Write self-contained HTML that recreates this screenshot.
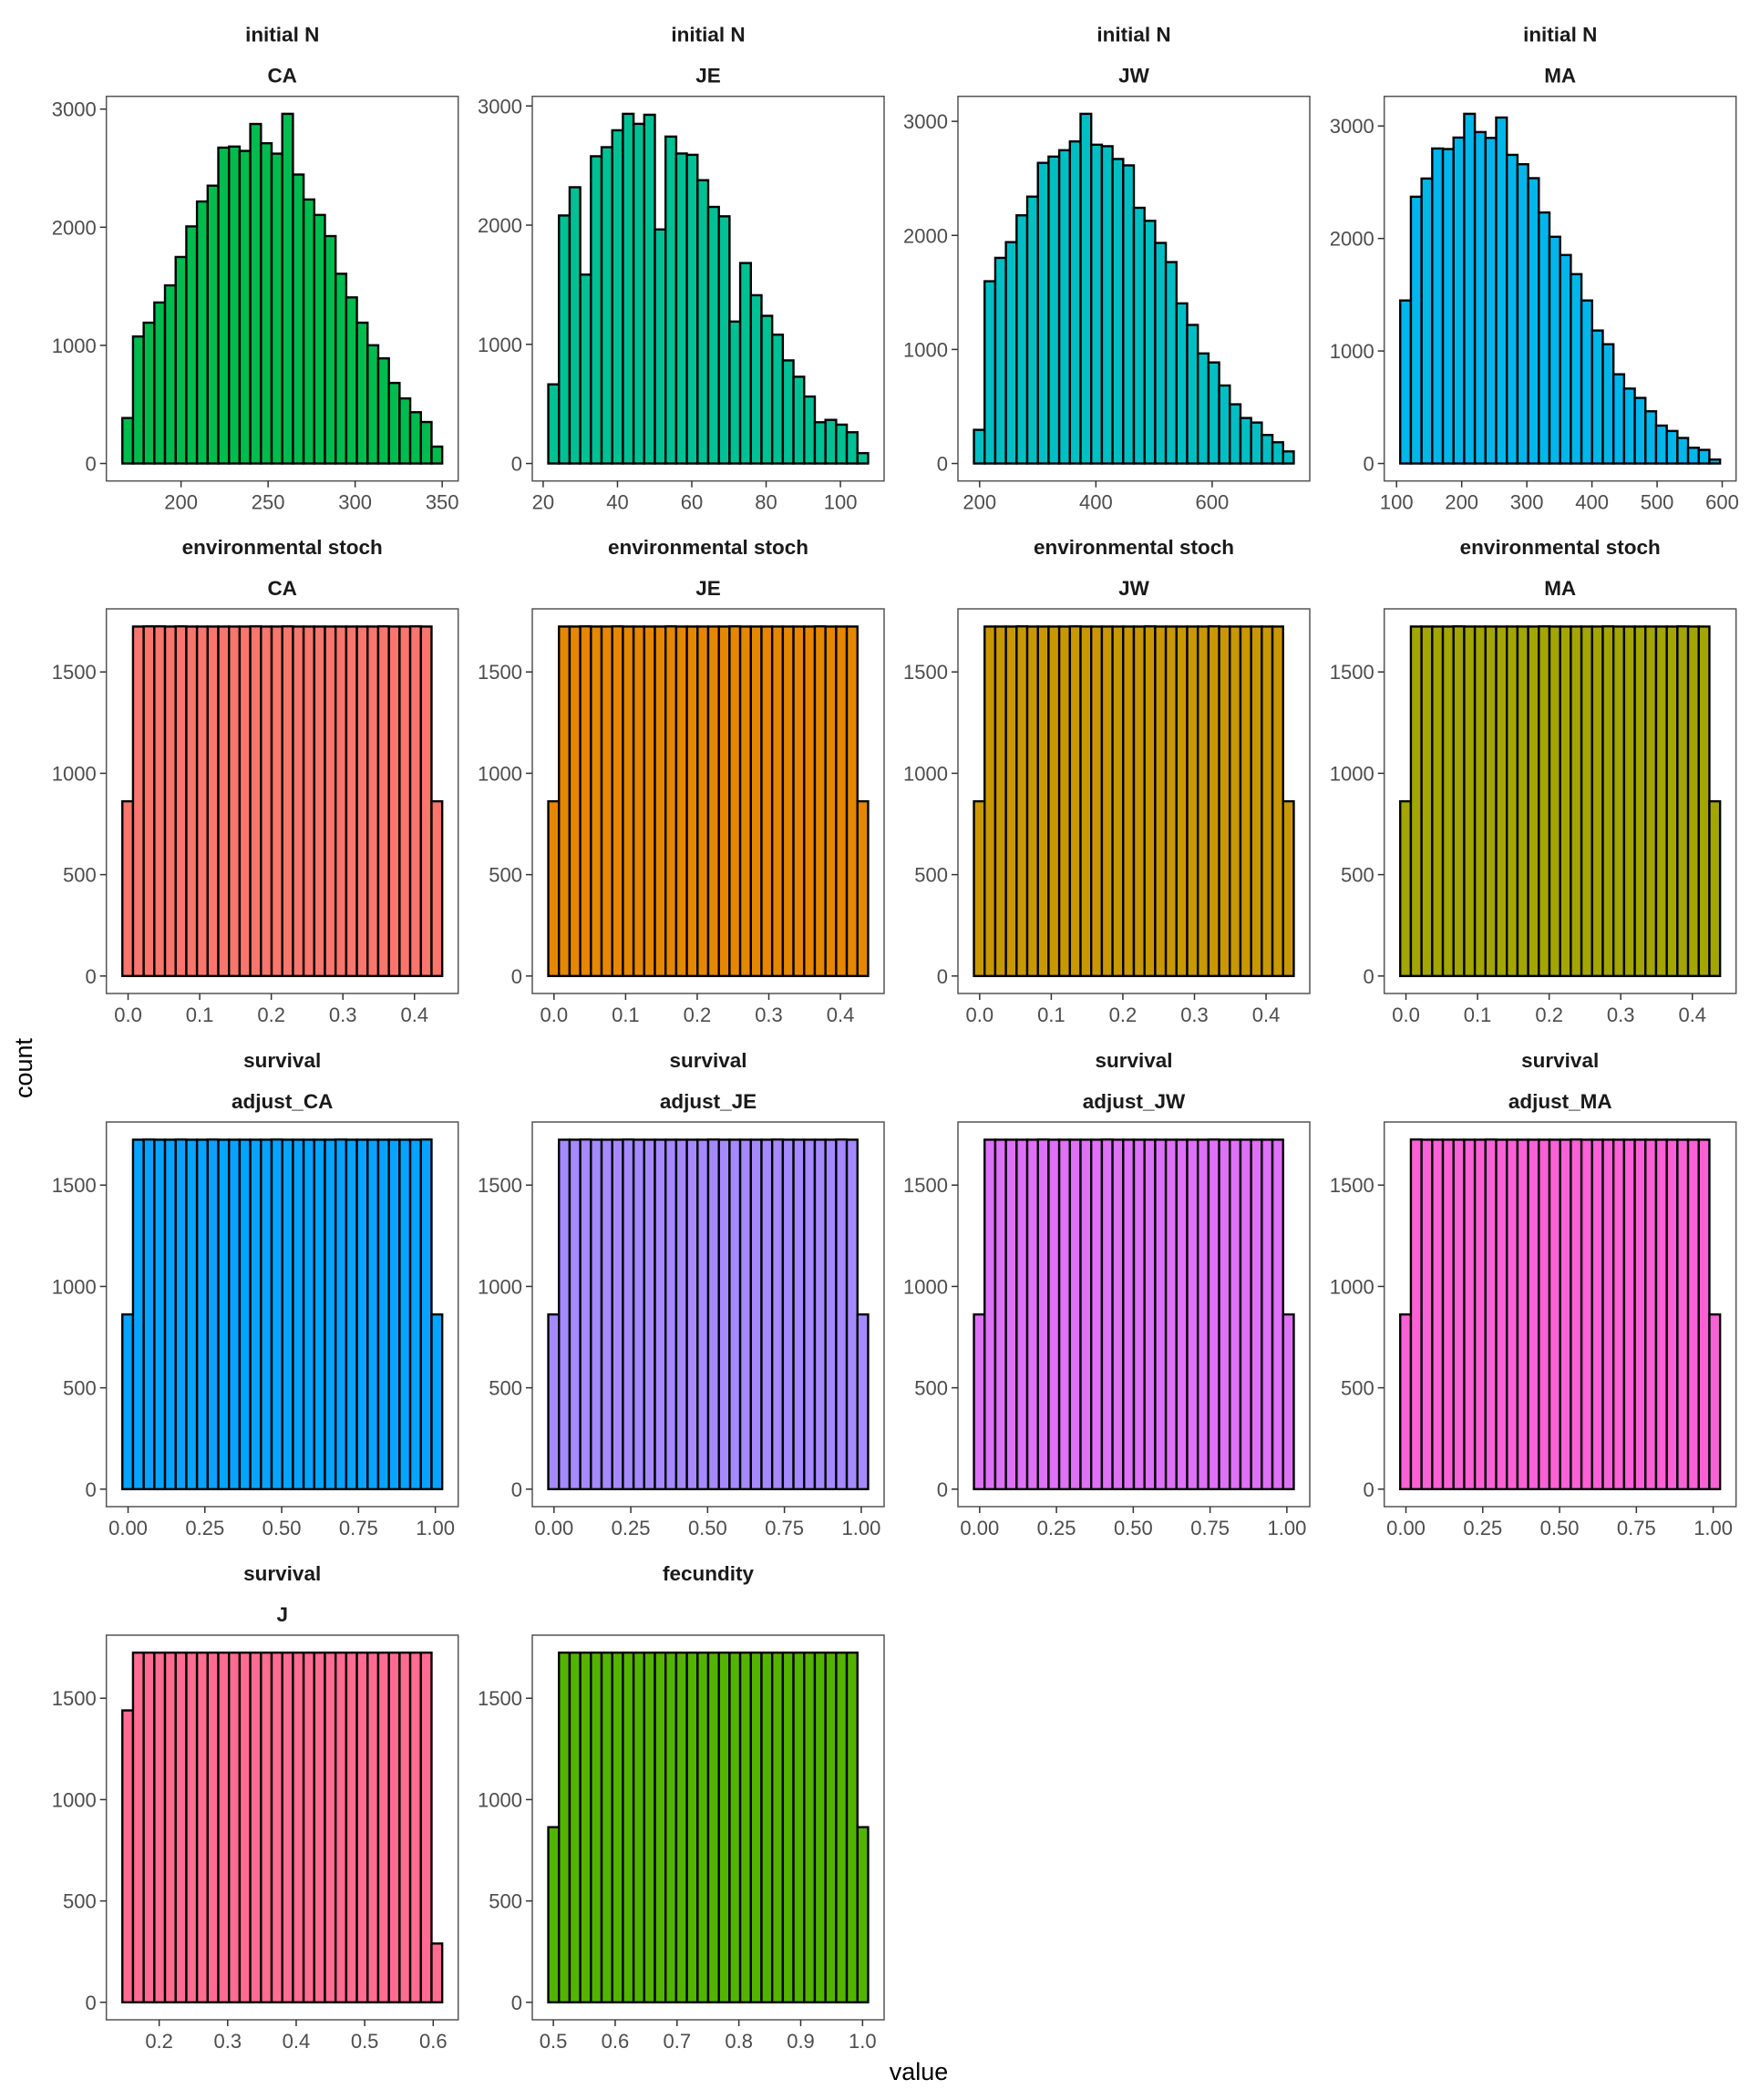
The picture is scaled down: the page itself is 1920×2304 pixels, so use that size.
<!DOCTYPE html>
<html><head><meta charset="utf-8"><title>Histograms</title>
<style>
html,body{margin:0;padding:0;background:#fff;}
svg{display:block;font-family:"Liberation Sans",Arial,sans-serif;}
</style></head>
<body>
<svg id="chart" width="1920" height="2304" viewBox="0 0 1920 2304" xmlns="http://www.w3.org/2000/svg">
<rect x="0" y="0" width="1920" height="2304" fill="#fff"/>
<text x="28" y="1172" transform="rotate(-90 28 1172)" text-anchor="middle" dominant-baseline="middle" font-size="27" fill="#000">count</text>
<text x="1008" y="2282" text-anchor="middle" font-size="27" fill="#000">value</text>
</svg>
<script>
// ---- data (counts per bin, 30 bins each) ----
const countsInitCA = [385,1075,1192,1363,1508,1748,2007,2218,2352,2674,2683,2646,2874,2711,2623,2960,2446,2235,2104,1925,1606,1406,1192,1001,890,682,551,434,351,143];
const countsInitJE = [664,2081,2318,1585,2578,2654,2796,2934,2850,2926,1964,2743,2601,2590,2377,2153,2074,1191,1682,1412,1239,1081,865,728,562,346,366,326,262,87];
const countsInitJW = [295,1598,1803,1941,2176,2340,2636,2691,2747,2824,3066,2795,2782,2670,2614,2242,2128,1934,1766,1404,1215,965,886,684,519,399,359,250,186,106];
const countsInitMA = [1449,2371,2533,2800,2795,2897,3108,2946,2894,3075,2743,2660,2536,2231,2015,1853,1683,1449,1182,1060,793,666,583,464,337,289,227,140,121,35];
const countsEnvCA = [862,1724,1725,1725,1724,1725,1724,1724,1724,1724,1724,1724,1725,1724,1724,1725,1724,1724,1724,1724,1724,1724,1724,1724,1725,1724,1724,1725,1724,862];
const countsEnvJE = [862,1724,1724,1725,1724,1724,1725,1724,1724,1724,1724,1725,1724,1724,1724,1724,1724,1725,1724,1724,1724,1724,1724,1724,1724,1725,1724,1724,1724,862];
const countsEnvJW = [862,1724,1724,1724,1725,1724,1724,1724,1724,1725,1724,1724,1724,1724,1724,1724,1725,1724,1724,1724,1724,1724,1725,1724,1724,1724,1724,1724,1724,862];
const countsEnvMA = [862,1724,1724,1724,1724,1725,1724,1724,1724,1724,1724,1724,1724,1725,1724,1724,1724,1724,1724,1725,1724,1724,1724,1724,1724,1724,1725,1724,1724,862];
const countsSurvCA = [862,1724,1725,1724,1724,1725,1724,1724,1725,1724,1724,1724,1724,1724,1725,1724,1724,1724,1724,1724,1725,1724,1724,1724,1724,1724,1724,1724,1725,862];
const countsSurvJE = [862,1724,1724,1725,1724,1724,1724,1725,1724,1724,1724,1724,1724,1724,1724,1725,1724,1724,1724,1724,1724,1725,1724,1724,1724,1724,1724,1725,1724,862];
const countsSurvJW = [862,1724,1724,1724,1724,1724,1725,1724,1724,1724,1724,1724,1725,1724,1724,1724,1724,1724,1724,1724,1724,1724,1725,1724,1724,1724,1724,1724,1724,862];
const countsSurvMA = [862,1725,1724,1724,1724,1724,1724,1724,1725,1724,1724,1724,1724,1724,1724,1724,1725,1724,1724,1724,1724,1724,1724,1724,1724,1724,1724,1724,1724,862];
const countsSurvJ = [1440,1725,1725,1725,1725,1725,1725,1725,1725,1725,1725,1725,1725,1725,1725,1725,1725,1725,1725,1725,1725,1725,1725,1725,1725,1725,1725,1725,1725,290];
const countsFecundity = [864,1725,1725,1725,1725,1725,1725,1725,1725,1725,1725,1725,1725,1725,1725,1725,1725,1725,1725,1725,1725,1725,1725,1725,1725,1725,1725,1725,1725,864];

// bin start values and widths (data units)
const binStarts = [166.3, 21.38, 190.2, 105.6, -0.008, -0.008, -0.008, -0.008, -0.0186, -0.0186, -0.0186, -0.0186, 0.1463, 0.4918];
const binWidths = [6.123, 2.869, 18.34, 16.37, 0.01489, 0.01489, 0.01489, 0.01489, 0.0347, 0.0347, 0.0347, 0.0347, 0.01556, 0.01724];

// tick labels
const yTicksInit = [0,1000,2000,3000];
const yTicksUnif = [0,500,1000,1500];
const xTicksInitCA = ["200","250","300","350"];
const xTicksInitJE = ["20","40","60","80","100"];
const xTicksInitJW = ["200","400","600"];
const xTicksInitMA = ["100","200","300","400","500","600"];
const xTicksEnv = ["0.0","0.1","0.2","0.3","0.4"];
const xTicksSurv = ["0.00","0.25","0.50","0.75","1.00"];
const xTicksJ = ["0.2","0.3","0.4","0.5","0.6"];
const xTicksFec = ["0.5","0.6","0.7","0.8","0.9","1.0"];

// facet labels
const stripTop = ["initial N","initial N","initial N","initial N","environmental stoch","environmental stoch","environmental stoch","environmental stoch","survival","survival","survival","survival","survival","fecundity"];
const stripSub = ["CA","JE","JW","MA","CA","JE","JW","MA","adjust_CA","adjust_JE","adjust_JW","adjust_MA","J",""];
const fills = ["#00BB4E","#00C094","#00BFC4","#00B6EB","#F8766D","#E58700","#C99800","#A3A500","#06A4FF","#A58AFF","#DF70F8","#FB61D7","#FF6C91","#53B400"];

const panelCounts = [countsInitCA,countsInitJE,countsInitJW,countsInitMA,countsEnvCA,countsEnvJE,countsEnvJW,countsEnvMA,countsSurvCA,countsSurvJE,countsSurvJW,countsSurvMA,countsSurvJ,countsFecundity];
const panelXTicks = [xTicksInitCA,xTicksInitJE,xTicksInitJW,xTicksInitMA,xTicksEnv,xTicksEnv,xTicksEnv,xTicksEnv,xTicksSurv,xTicksSurv,xTicksSurv,xTicksSurv,xTicksJ,xTicksFec];
const panelYTicks = [yTicksInit,yTicksInit,yTicksInit,yTicksInit,yTicksUnif,yTicksUnif,yTicksUnif,yTicksUnif,yTicksUnif,yTicksUnif,yTicksUnif,yTicksUnif,yTicksUnif,yTicksUnif];

// ---- layout ----
const colLeft = [116.7, 584, 1051, 1518.7];
const rowTop = [105.7, 668, 1231, 1794];
const PW = 386, PH = 422;
const NS = "http://www.w3.org/2000/svg";
const svg = document.getElementById('chart');

function mk(tag, attrs, parent){
  const e = document.createElementNS(NS, tag);
  for (const k in attrs) e.setAttribute(k, attrs[k]);
  parent.appendChild(e);
  return e;
}

panelCounts.forEach((counts, p) => {
  const L = colLeft[p % 4], T = rowTop[Math.floor(p / 4)];
  const g = mk('g', {}, svg);
  
  

  const x0 = binStarts[p], bw = binWidths[p], n = counts.length;
  const xMin = x0, xMax = x0 + bw * n;
  const xr = xMax - xMin;
  const xs = v => L + PW * (0.05 + (v - xMin) / xr) / 1.1;
  const yMaxData = Math.max(...counts);
  const ys = v => T + PH - PH * (0.05 + v / yMaxData) / 1.1;

  const t1 = mk('text', {x: L + PW/2, y: T - 60, 'text-anchor':'middle', 'font-size':'22.5', 'font-weight':'bold', fill:'#1a1a1a'}, g);
  t1.textContent = stripTop[p];
  
  
  if (stripSub[p]) {
    const t2 = mk('text', {x: L + PW/2, y: T - 15, 'text-anchor':'middle', 'font-size':'22.5', 'font-weight':'bold', fill:'#1a1a1a'}, g);
    t2.textContent = stripSub[p];
    
    
  }

  // bars
  counts.forEach((c, i) => {
    const xa = xs(x0 + i * bw), xb = xs(x0 + (i + 1) * bw);
    const r = mk('rect', {x: xa, y: ys(c), width: xb - xa, height: ys(0) - ys(c), fill: fills[p], stroke:'#000', 'stroke-width':'2.4'}, g);
    
    
  });

  // border
  const b = mk('rect', {x: L, y: T, width: PW, height: PH, fill:'none', stroke:'#555', 'stroke-width':'1.5'}, g);
  
  

  // y ticks
  panelYTicks[p].forEach(v => {
    const y = ys(v);
    const tl = mk('line', {x1: L - 7, x2: L, y1: y, y2: y, stroke:'#333', 'stroke-width':'1.5'}, g);
    
    
    const tx = mk('text', {x: L - 11, y: y + 8, 'text-anchor':'end', 'font-size':'22', fill:'#4d4d4d'}, g);
    tx.textContent = String(v);
    
    
  });

  // x ticks
  panelXTicks[p].forEach(lbl => {
    const x = xs(parseFloat(lbl));
    const tl = mk('line', {x1: x, x2: x, y1: T + PH, y2: T + PH + 7, stroke:'#333', 'stroke-width':'1.5'}, g);
    
    
    const tx = mk('text', {x: x, y: T + PH + 31, 'text-anchor':'middle', 'font-size':'22', fill:'#4d4d4d'}, g);
    tx.textContent = lbl;
    
    
  });
});
</script>
</body></html>
